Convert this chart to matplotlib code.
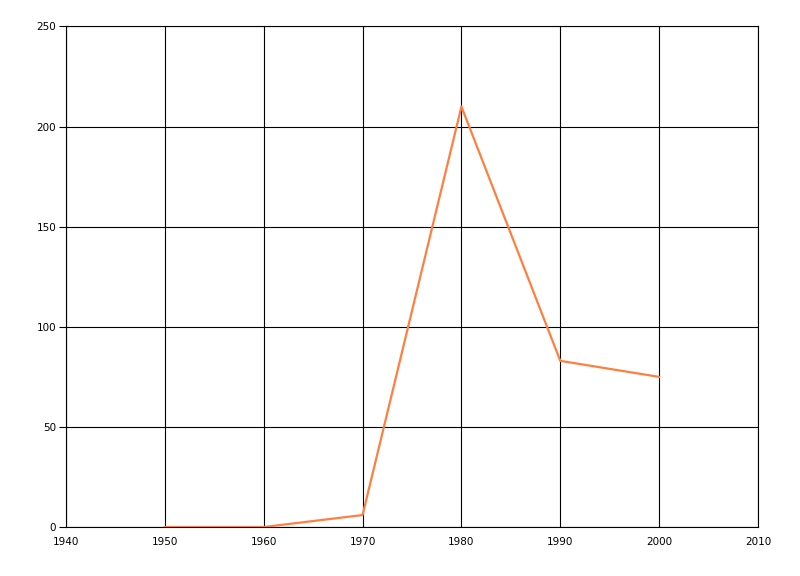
import matplotlib.pyplot as plt

# data
years = [1950, 1960, 1970, 1980, 1990, 2000]
values = [0, 0, 6, 210, 83, 75]

x_ticks = [1940, 1950, 1960, 1970, 1980, 1990, 2000, 2010]
y_ticks = [0, 50, 100, 150, 200, 250]

fig = plt.figure(figsize=(8, 5.76), dpi=100)
ax = fig.add_axes([0.0825, 0.085, 0.865, 0.869])

ax.plot(years, values, color="#FF7F40", linewidth=1.6, zorder=3)

ax.set_xlim(1940, 2010)
ax.set_ylim(0, 250)
ax.set_xticks(x_ticks)
ax.set_yticks(y_ticks)

ax.grid(True, color="black", linewidth=0.8)
for s in ax.spines.values():
    s.set_color("black")
    s.set_linewidth(0.8)

ax.tick_params(axis="y", length=5, width=0.8, labelsize=7.5, pad=2)
ax.tick_params(axis="x", length=0, labelsize=7.5, pad=7)

fig.savefig("out.png", dpi=100)
